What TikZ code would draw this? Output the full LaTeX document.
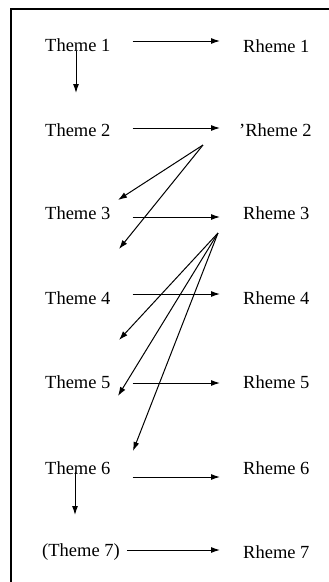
\documentclass[tikz,border=0pt]{standalone}
\usepackage{fontspec}
\setmainfont{Liberation Serif}
\usetikzlibrary{arrows.meta,calc}
\begin{document}
\begin{tikzpicture}[x=1pt,y=-1pt,
  lbl/.style={anchor=west,inner sep=0pt,font=\fontsize{18.5}{20}\selectfont},
  arr/.style={line width=1pt,-{Latex[length=9pt,width=6pt]}},
  frame/.style={line width=1.6pt}]
\useasboundingbox (0,0) rectangle (329,582);
\draw[frame] (11,582) -- (11,9) -- (329,9);
% theme nodes
\node[lbl] (t1) at (45,45) {Theme 1};
\node[lbl] (t2) at (45,130) {Theme 2};
\node[lbl] (t3) at (45,213) {Theme 3};
\node[lbl] (t4) at (45,298) {Theme 4};
\node[lbl] (t5) at (45,382) {Theme 5};
\node[lbl] (t6) at (45,468) {Theme 6};
\node[lbl] (t7) at (42,552) {(Theme 7)};
% rheme nodes
\node[lbl] (r1) at (243,46) {Rheme 1};
\node[lbl] (r2) at (239,130) {'Rheme 2};
\node[lbl] (r3) at (243,213) {Rheme 3};
\node[lbl] (r4) at (243,298) {Rheme 4};
\node[lbl] (r5) at (243,382) {Rheme 5};
\node[lbl] (r6) at (243,468) {Rheme 6};
\node[lbl] (r7) at (243,552) {Rheme 7};
% horizontal arrows
\draw[arr] ($(t1.east)+(22,-4)$) -- ($(r1.west)+(-23,-5)$);
\draw[arr] ($(t2.east)+(22,-2)$) -- ($(r2.west)+(-19,-2)$);
\draw[arr] ($(t3.east)+(22,4)$) -- ($(r3.west)+(-23,4)$);
\draw[arr] ($(t4.east)+(22,-4)$) -- ($(r4.west)+(-23,-4)$);
\draw[arr] ($(t5.east)+(22,1)$) -- ($(r5.west)+(-23,1)$);
\draw[arr] ($(t6.east)+(22,9)$) -- ($(r6.west)+(-23,9)$);
\draw[arr] ($(t7.east)+(7,-2)$) -- ($(r7.west)+(-23,-2)$);
% vertical arrows
\coordinate (d1) at (76,93);
\coordinate (d6) at (75,515);
\draw[arr] ([yshift=1pt]t1.south -| d1) -- (d1);
\draw[arr] ([yshift=3pt]t6.south -| d6) -- (d6);
% fan from Rheme 2
\coordinate (s2) at (203,145);
\coordinate (a21) at (118,200);
\coordinate (a22) at (119,249);
\draw[arr] (s2) -- (a21);
\draw[arr] (s2) -- (a22);
% fan from Rheme 3
\coordinate (s3) at (218,233);
\coordinate (a31) at (119,340);
\coordinate (a32) at (118,396);
\coordinate (a33) at (133,451);
\draw[arr] (s3) -- (a31);
\draw[arr] (s3) -- (a32);
\draw[arr] (s3) -- (a33);
\end{tikzpicture}
\end{document}
